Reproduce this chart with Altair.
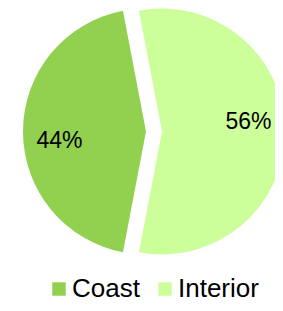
import math
import altair as alt
import pandas as pd

categories = ["Coast", "Interior"]
shares = [44, 56]
colors = ["#92D050", "#CCFF99"]

df = pd.DataFrame({"category": categories, "share": shares})

ROT = math.radians(-10.8)
CX, CY = 146, 123.5
R = 123
EXPLODE = 8
LABEL_R = 87
LABEL_SHIFT = -0.11
FONT = "Liberation Sans"

base = (
    alt.Chart(df)
    .transform_joinaggregate(total="sum(share)")
    .transform_window(
        cum="sum(share)",
        sort=[alt.SortField("category", order="descending")],
        frame=[None, 0],
    )
    .transform_calculate(
        mid=f"{ROT} + 2*PI*(datum.cum - datum.share/2)/datum.total",
        pct="round(100*datum.share/datum.total) + '%'",
    )
    .transform_calculate(
        cx=f"{CX} + {EXPLODE}*sin(datum.mid)",
        cy=f"{CY} - {EXPLODE}*cos(datum.mid)",
    )
    .transform_calculate(
        lx=f"datum.cx + {LABEL_R}*sin(datum.mid + {LABEL_SHIFT})",
        ly=f"datum.cy - {LABEL_R}*cos(datum.mid + {LABEL_SHIFT})",
    )
)

arcs = base.mark_arc(radius=R).encode(
    theta=alt.Theta("share:Q", stack=True, scale=alt.Scale(range=[ROT, ROT + 2 * math.pi])),
    order=alt.Order("category:N", sort="descending"),
    x=alt.X("cx:Q", scale=None),
    y=alt.Y("cy:Q", scale=None),
    color=alt.Color(
        "category:N",
        scale=alt.Scale(domain=categories, range=colors),
        legend=alt.Legend(
            orient="none",
            legendX=38,
            legendY=268,
            direction="horizontal",
            title=None,
            symbolType="square",
            symbolSize=180,
            symbolStrokeWidth=0,
            symbolOpacity=1,
            labelFontSize=26,
            labelFont=FONT,
            labelColor="black",
            labelOffset=0,
            columnPadding=12,
            padding=0,
        ),
    ),
)

labels = base.mark_text(fontSize=23, font=FONT, color="black").encode(
    x=alt.X("lx:Q", scale=None),
    y=alt.Y("ly:Q", scale=None),
    text="pct:N",
)

chart = (
    alt.layer(arcs, labels)
    .properties(width=267, height=295, autosize=alt.AutoSizeParams(type="none"), padding=0)
    .configure_view(stroke=None)
)

chart.save("out.html", embed_options={"renderer": "svg", "actions": False})
